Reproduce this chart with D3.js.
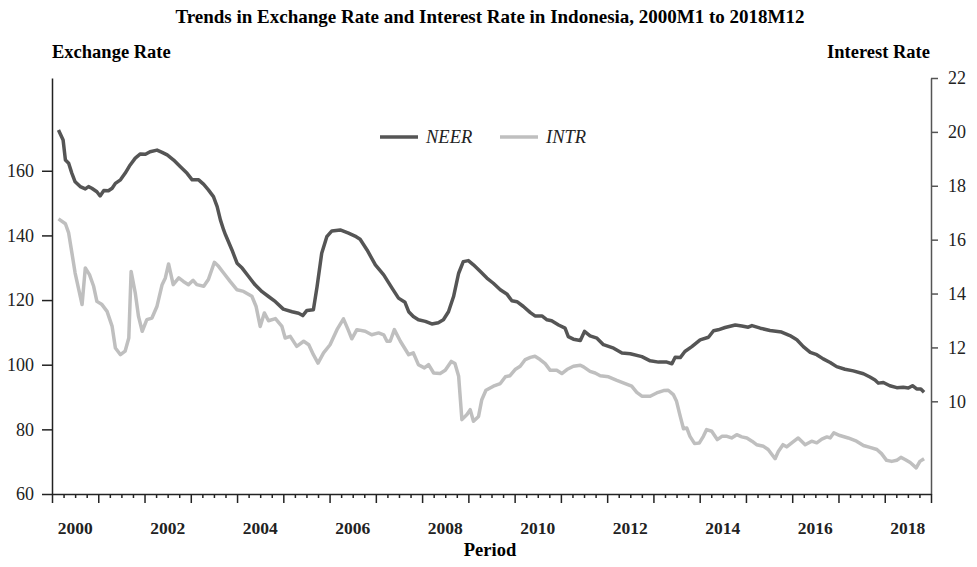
<!DOCTYPE html>
<html>
<head>
<meta charset="UTF-8">
<title>Trends in Exchange Rate and Interest Rate in Indonesia</title>
<script src="https://d3js.org/d3.v7.min.js"></script>
<style>
body { margin: 0; background: #fff; }
svg { font-family: "Liberation Serif", "DejaVu Serif", serif; }
</style>
</head>
<body>

<figure class=chart style="margin:0"></figure>

<script type="text/javascript">

/* Data (period as decimal year) */
var neerPeriod = [2000.14,2000.24,2000.29,2000.36,2000.43,2000.50,2000.61,2000.72,2000.79,2000.86,2000.97,2001.04,2001.12,2001.22,2001.30,2001.37,2001.48,2001.58,2001.69,2001.80,2001.91,2002.02,2002.12,2002.27,2002.38,2002.49,2002.63,2002.77,2002.92,2003.03,2003.17,2003.28,2003.38,2003.49,2003.57,2003.64,2003.71,2003.75,2003.89,2004.00,2004.11,2004.25,2004.39,2004.54,2004.68,2004.83,2005.00,2005.19,2005.33,2005.42,2005.51,2005.65,2005.73,2005.83,2005.94,2006.05,2006.23,2006.41,2006.55,2006.66,2006.81,2006.99,2007.17,2007.35,2007.49,2007.63,2007.71,2007.81,2007.92,2008.07,2008.21,2008.35,2008.46,2008.57,2008.68,2008.79,2008.89,2009.00,2009.11,2009.26,2009.40,2009.54,2009.69,2009.83,2009.94,2010.05,2010.19,2010.34,2010.44,2010.59,2010.70,2010.80,2010.95,2011.09,2011.16,2011.27,2011.42,2011.51,2011.63,2011.78,2011.92,2012.14,2012.32,2012.50,2012.75,2012.93,2013.11,2013.29,2013.40,2013.47,2013.58,2013.68,2013.83,2014.01,2014.19,2014.30,2014.40,2014.55,2014.77,2014.91,2015.05,2015.13,2015.31,2015.52,2015.77,2015.95,2016.10,2016.24,2016.39,2016.53,2016.67,2016.82,2016.96,2017.14,2017.32,2017.54,2017.68,2017.79,2017.86,2017.97,2018.11,2018.26,2018.40,2018.51,2018.60,2018.69,2018.78,2018.85];
var neer = [172.6,169.5,163.3,162.3,159.2,156.6,155.1,154.4,155.1,154.6,153.5,152.2,153.9,153.8,154.6,156.1,157.2,159.2,161.8,163.9,165.2,165.1,165.9,166.4,165.7,164.9,163.3,161.3,159.2,157.2,157.2,155.8,154.1,152.0,148.9,144.8,141.7,140.2,135.5,131.4,129.9,127.3,124.7,122.6,121.1,119.5,117.2,116.4,115.9,115.2,116.8,117.0,124.2,134.5,139.6,141.4,141.7,140.7,139.8,138.8,135.5,130.9,127.8,123.7,120.6,119.3,116.4,114.9,113.9,113.4,112.6,113.0,113.9,116.4,121.1,128.3,131.9,132.2,130.9,128.8,126.8,125.2,123.2,121.9,119.8,119.5,118.0,116.1,115.1,115.1,113.9,113.6,112.3,111.3,108.7,107.9,107.5,110.3,108.9,108.2,106.2,105.1,103.6,103.4,102.5,101.2,100.8,100.8,100.3,102.3,102.2,104.1,105.6,107.7,108.5,110.5,110.8,111.5,112.3,112.0,111.6,112.1,111.3,110.6,110.1,109.0,107.7,105.6,103.8,103.1,101.8,100.7,99.4,98.6,98.1,97.2,96.2,95.3,94.3,94.5,93.5,92.9,93.0,92.8,93.5,92.5,92.5,91.5];

var intrPeriod = [2000.14,2000.29,2000.36,2000.43,2000.50,2000.58,2000.65,2000.72,2000.81,2000.90,2000.97,2001.08,2001.19,2001.30,2001.37,2001.48,2001.58,2001.66,2001.71,2001.80,2001.87,2001.95,2002.05,2002.16,2002.27,2002.38,2002.45,2002.52,2002.62,2002.74,2002.84,2002.95,2003.05,2003.13,2003.28,2003.38,2003.51,2003.60,2003.71,2003.85,2004.00,2004.14,2004.32,2004.41,2004.50,2004.59,2004.68,2004.83,2004.97,2005.04,2005.15,2005.29,2005.44,2005.55,2005.65,2005.75,2005.87,2006.01,2006.16,2006.30,2006.40,2006.48,2006.59,2006.77,2006.91,2007.06,2007.17,2007.24,2007.31,2007.40,2007.53,2007.71,2007.81,2007.92,2008.05,2008.14,2008.25,2008.39,2008.50,2008.63,2008.71,2008.79,2008.86,2008.97,2009.04,2009.11,2009.22,2009.29,2009.38,2009.54,2009.69,2009.80,2009.90,2010.01,2010.12,2010.23,2010.34,2010.44,2010.55,2010.66,2010.77,2010.91,2011.02,2011.13,2011.27,2011.42,2011.49,2011.63,2011.74,2011.85,2012.03,2012.21,2012.39,2012.53,2012.64,2012.75,2012.93,2013.07,2013.22,2013.32,2013.43,2013.50,2013.58,2013.65,2013.72,2013.79,2013.89,2013.99,2014.08,2014.15,2014.26,2014.38,2014.48,2014.59,2014.69,2014.80,2014.91,2015.02,2015.13,2015.23,2015.38,2015.48,2015.63,2015.70,2015.80,2015.88,2015.99,2016.13,2016.28,2016.42,2016.53,2016.64,2016.75,2016.82,2016.90,2017.03,2017.21,2017.39,2017.54,2017.68,2017.83,2017.93,2018.04,2018.15,2018.26,2018.35,2018.44,2018.55,2018.68,2018.76,2018.85];
var intr = [16.77,16.59,16.25,15.51,14.76,14.14,13.59,14.95,14.70,14.27,13.71,13.59,13.34,12.78,11.98,11.73,11.86,12.35,14.82,14.02,13.15,12.60,13.03,13.09,13.53,14.33,14.58,15.10,14.33,14.58,14.45,14.33,14.49,14.33,14.27,14.52,15.16,15.01,14.76,14.45,14.14,14.08,13.90,13.53,12.78,13.28,12.99,13.07,12.78,12.35,12.41,12.04,12.23,12.10,11.73,11.42,11.80,12.10,12.66,13.06,12.66,12.32,12.66,12.60,12.47,12.54,12.47,12.23,12.23,12.66,12.23,11.73,11.80,11.36,11.24,11.36,11.05,11.03,11.15,11.48,11.40,10.93,9.32,9.51,9.69,9.26,9.44,10.06,10.41,10.56,10.66,10.91,10.95,11.18,11.30,11.55,11.63,11.67,11.55,11.40,11.15,11.15,11.03,11.18,11.30,11.34,11.28,11.11,11.05,10.95,10.91,10.78,10.66,10.56,10.33,10.19,10.19,10.31,10.40,10.41,10.25,10.00,9.44,8.98,9.01,8.70,8.43,8.45,8.70,8.95,8.89,8.58,8.70,8.70,8.64,8.76,8.68,8.64,8.52,8.39,8.33,8.21,7.87,8.14,8.39,8.31,8.46,8.64,8.39,8.52,8.46,8.60,8.68,8.64,8.83,8.73,8.64,8.52,8.36,8.29,8.21,8.06,7.81,7.77,7.81,7.92,7.84,7.73,7.53,7.77,7.87];

var leftTicks = [60, 80, 100, 120, 140, 160];
var rightTicks = [10, 12, 14, 16, 18, 20, 22];
var yearLabels = [2000, 2002, 2004, 2006, 2008, 2010, 2012, 2014, 2016, 2018];

/* Global variables */
var W = 977, H = 567;
var margin = {left: 52, right: 46, top: 78, bottom: 73};
var neerColor = '#555555', intrColor = '#bfbfbf';

var x = d3.scaleLinear().domain([2000, 2019]).range([margin.left, W - margin.right]);
var yL = d3.scaleLinear().domain([60, 188.7]).range([H - margin.bottom, margin.top]);
var yR = d3.scaleLinear().domain([6.56, 22]).range([H - margin.bottom, margin.top]);

var svg = d3.select('figure').append('svg')
	.attr('width', W)
	.attr('height', H);

/* Titles */
svg.append('text')
	.attr('x', 490).attr('y', 23)
	.attr('text-anchor', 'middle')
	.style('font-weight', 'bold').style('font-size', '19px')
	.text('Trends in Exchange Rate and Interest Rate in Indonesia, 2000M1 to 2018M12');

svg.append('text')
	.attr('x', margin.left).attr('y', 58)
	.style('font-weight', 'bold').style('font-size', '18.5px')
	.text('Exchange Rate');

svg.append('text')
	.attr('x', 930).attr('y', 58)
	.attr('text-anchor', 'end')
	.style('font-weight', 'bold').style('font-size', '18.5px')
	.text('Interest Rate');

svg.append('text')
	.attr('x', 490).attr('y', 556)
	.attr('text-anchor', 'middle')
	.style('font-weight', 'bold').style('font-size', '18.5px')
	.text('Period');

/* Axes */
var leftAxis = svg.append('g')
	.attr('transform', 'translate(' + margin.left + ',0)')
	.call(d3.axisLeft(yL).tickValues(leftTicks).tickSize(10).tickSizeOuter(0).tickPadding(8));

var rightAxis = svg.append('g')
	.attr('transform', 'translate(' + (W - margin.right) + ',0)')
	.call(d3.axisRight(yR).tickValues(rightTicks).tickSize(7).tickSizeOuter(0).tickPadding(10));

var quarters = d3.range(0, 19 * 4 + 1).map(function(q) { return 2000 + q / 4; });
var bottomAxis = svg.append('g')
	.attr('transform', 'translate(0,' + (H - margin.bottom) + ')')
	.call(d3.axisBottom(x).tickValues(quarters).tickFormat('').tickSizeOuter(0));

bottomAxis.selectAll('.tick line')
	.attr('y2', function(d) { return Number.isInteger(d) ? 9 : 4; });

svg.selectAll('.domain, .tick line')
	.style('stroke', '#222').style('stroke-width', 1.5);
rightAxis.selectAll('.domain, .tick line').style('stroke', '#555');

svg.selectAll('.tick text')
	.style('font-family', '"Liberation Serif", serif')
	.style('font-size', '18px')
	.style('fill', '#222');

svg.selectAll('.yearLabel')
	.data(yearLabels)
	.enter()
	.append('text')
	.attr('class', 'yearLabel')
	.attr('x', function(d) { return x(d + 0.5); })
	.attr('y', 534)
	.attr('text-anchor', 'middle')
	.style('font-weight', 'bold').style('font-size', '17.5px')
	.style('fill', '#222')
	.text(function(d) { return d; });

/* Lines */
var neerLine = d3.line()
	.x(function(d, i) { return x(neerPeriod[i]); })
	.y(function(d) { return yL(d); });

var intrLine = d3.line()
	.x(function(d, i) { return x(intrPeriod[i]); })
	.y(function(d) { return yR(d); });

svg.append('path')
	.datum(intr)
	.attr('d', intrLine)
	.style('fill', 'none').style('stroke', intrColor)
	.style('stroke-width', 3.5).style('stroke-linejoin', 'round');

svg.append('path')
	.datum(neer)
	.attr('d', neerLine)
	.style('fill', 'none').style('stroke', neerColor)
	.style('stroke-width', 3.5).style('stroke-linejoin', 'round');

/* Legend */
var legend = [{name: 'NEER', color: neerColor, x: 380}, {name: 'INTR', color: intrColor, x: 500}];
var lg = svg.selectAll('.legend')
	.data(legend)
	.enter()
	.append('g')
	.attr('class', 'legend')
	.attr('transform', function(d) { return 'translate(' + d.x + ',137)'; });

lg.append('line')
	.attr('x1', 0).attr('x2', 38)
	.style('stroke', function(d) { return d.color; })
	.style('stroke-width', 3.5);

lg.append('text')
	.attr('x', 46).attr('y', 6)
	.style('font-style', 'italic').style('font-size', '18.5px')
	.style('fill', '#222')
	.text(function(d) { return d.name; });

</script>

</body>
</html>
